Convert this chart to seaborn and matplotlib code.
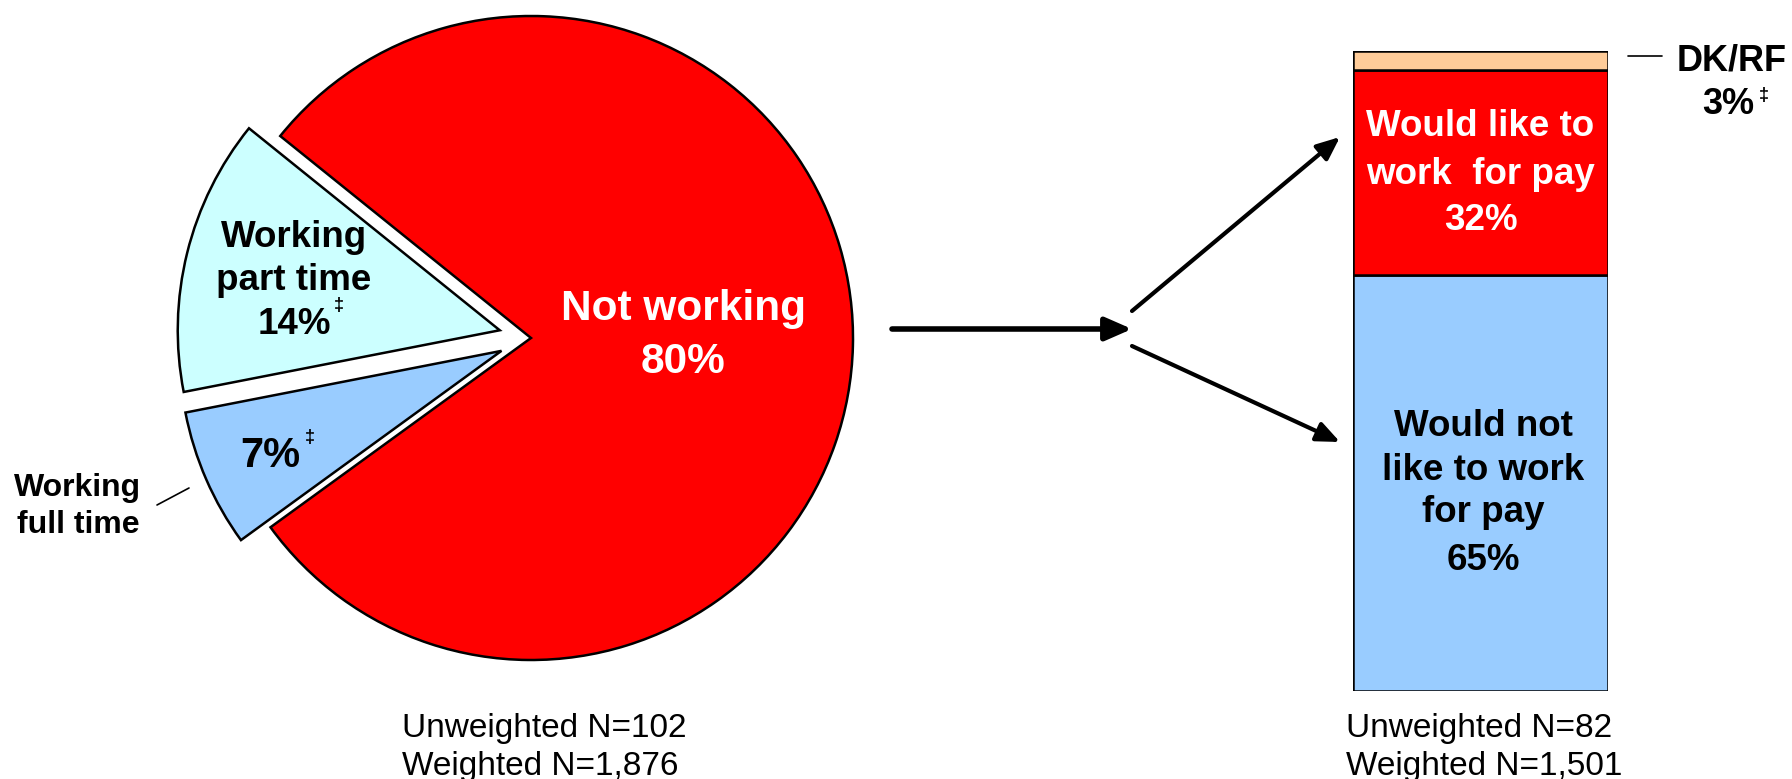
import numpy as np
import seaborn as sns
import matplotlib
import matplotlib.pyplot as plt
from matplotlib.patches import FancyArrowPatch

matplotlib.use('Agg')

# Data
pie_labels = ["Not working", "Working part time", "Working full time"]
pie_values = [80, 14, 7]
pie_colors = ["#FF0000", "#CCFFFF", "#99CCFF"]
pie_explode = [0.0, 0.1, 0.1]

bar_labels = ["Would not like to work for pay", "Would like to work for pay", "DK/RF"]
bar_values = [65, 32, 3]
bar_colors = ["#99CCFF", "#FF0000", "#FFCC99"]

left_n = ["Unweighted N=102", "Weighted N=1,876"]
right_n = ["Unweighted N=82", "Weighted N=1,501"]

sns.set_theme(style="white")
plt.rcParams['font.family'] = ['Liberation Sans', 'DejaVu Sans']
plt.rcParams['text.color'] = 'black'

W, H = 1792, 779
fig = plt.figure(figsize=(W / 100, H / 100), dpi=100)


def lines(ax, conv, x, ys, texts, **kw):
    """Write one text per line at the given pixel heights."""
    for y, t in zip(ys, texts):
        ax.text(*conv(x, y), t, ha="center", va="center", fontweight="bold", **kw)


# ---- pie ----
cx, cy, r = 531, 338, 322
lim = 1.2
ax = fig.add_axes([(cx - lim * r) / W, (H - cy - lim * r) / H, 2 * lim * r / W, 2 * lim * r / H])
ax.pie(pie_values, colors=pie_colors, explode=pie_explode, startangle=216,
       counterclock=True, wedgeprops=dict(edgecolor="black", linewidth=1.8))
ax.set_xlim(-lim, lim)
ax.set_ylim(-lim, lim)
ax.set_aspect("equal")
ax.axis("off")


def px(x, y):
    return (x - cx) / r, (cy - y) / r


lines(ax, px, 683, [309, 362], ["Not working", f"{pie_values[0]}%"], color="white", fontsize=30.5)
lines(ax, px, 294, [237, 280, 324], ["Working", "part time", f"{pie_values[1]}%"], fontsize=26.5)
ax.text(*px(339, 305), "‡", fontsize=13, fontweight="bold", ha="center", va="center")
ax.text(*px(270, 456), f"{pie_values[2]}%", fontsize=30, fontweight="bold", ha="center", va="center")
ax.text(*px(310, 437), "‡", fontsize=13, fontweight="bold", ha="center", va="center")
lines(ax, px, 78, [488, 525], ["Working", "full time"], fontsize=23)
x0, y0 = px(157, 505)
x1, y1 = px(189, 488)
ax.plot([x0, x1], [y0, y1], color="black", lw=1.2, clip_on=False)

# ---- stacked bar ----
bx0, bx1, by0, by1 = 1353, 1608, 51, 691
bax = fig.add_axes([bx0 / W, (H - by1) / H, (bx1 - bx0) / W, (by1 - by0) / H])
bottoms = np.concatenate([[0], np.cumsum(bar_values)[:-1]])
bax.bar([0] * len(bar_values), bar_values, bottom=bottoms, width=1.0,
        color=bar_colors, edgecolor="black", linewidth=1.8)
bax.set_xlim(-0.5, 0.5)
bax.set_ylim(0, sum(bar_values))
bax.axis("off")


def bpx(x, y):
    return (x - (bx0 + bx1) / 2) / (bx1 - bx0), (by1 - y) / (by1 - by0) * sum(bar_values)


mid = (bx0 + bx1) / 2
lines(bax, bpx, mid, [127, 174, 221], ["Would like to", "work  for pay", f"{bar_values[1]}%"],
      color="white", fontsize=26.5)
lines(bax, bpx, mid + 3, [426, 470, 513, 560], ["Would not", "like to work", "for pay", f"{bar_values[0]}%"],
      fontsize=26.5)

bax.text(*bpx(1732, 61), "DK/RF", fontsize=26, fontweight="bold", ha="center", va="center")
bax.text(*bpx(1728, 105), f"{bar_values[2]}%", fontsize=26, fontweight="bold", ha="center", va="center")
bax.text(*bpx(1764, 96), "‡", fontsize=13, fontweight="bold", ha="center", va="center")
lx0, ly = bpx(1628, 56)
lx1, _ = bpx(1662, 56)
bax.plot([lx0, lx1], [ly, ly], color="black", lw=1.2, clip_on=False)


# ---- arrows ----
def arrow(p0, p1, lw, hw, hl):
    fig.add_artist(FancyArrowPatch(
        (p0[0], H - p0[1]), (p1[0], H - p1[1]), transform=None,
        arrowstyle=f"-|>,head_width={hw},head_length={hl}", lw=lw, color="black",
        mutation_scale=10, shrinkA=0, shrinkB=0))


arrow((892, 329), (1132, 329), 4.0, 0.7, 1.6)
arrow((1132, 311), (1340, 137), 3.0, 0.6, 1.4)
arrow((1132, 346), (1340, 442), 3.0, 0.6, 1.4)

# ---- N notes ----
for x, txt in [(402, left_n), (1346, right_n)]:
    fig.text(x / W, 1 - 729 / H, txt[0], fontsize=24, ha="left", va="center")
    fig.text(x / W, 1 - 766 / H, txt[1], fontsize=24, ha="left", va="center")

fig.savefig("out.png", dpi=100)
